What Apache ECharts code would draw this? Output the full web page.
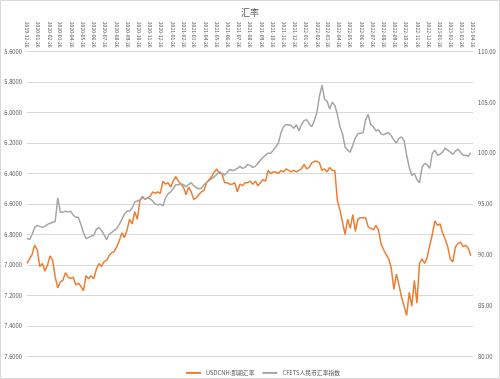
<!DOCTYPE html>
<html>
<head>
<meta charset="utf-8">
<script src="https://cdn.jsdelivr.net/npm/echarts@6/dist/echarts.min.js"></script>
<style>
html,body{margin:0;padding:0;background:#fff;}
#chart{width:500px;height:379px;}
</style>
</head>
<body>
<div id="chart"></div>
<script>
const titleText = '汇率';
const seriesNames = ['USDCNH:即期汇率', 'CFETS人民币汇率指数'];
const startDate = [2019, 12, 26]; // first weekly observation
const tickLabels = [
 '2019-12-26','2020-01-26','2020-02-26','2020-03-26','2020-04-26','2020-05-26','2020-06-26','2020-07-26','2020-08-26','2020-09-26','2020-10-26','2020-11-26','2020-12-26',
 '2021-01-26','2021-02-26','2021-03-26','2021-04-26','2021-05-26','2021-06-26','2021-07-26','2021-08-26','2021-09-26','2021-10-26','2021-11-26','2021-12-26',
 '2022-01-26','2022-02-26','2022-03-26','2022-04-26','2022-05-26','2022-06-26','2022-07-26','2022-08-26','2022-09-26','2022-10-26','2022-11-26','2022-12-26',
 '2023-01-26','2023-02-26','2023-03-26','2023-04-26'
];
// weekly USDCNH spot
const usdcnh = [
 6.99,6.96,6.93,6.87,6.90,7.01,6.99,7.04,7.00,6.94,6.97,7.08,7.15,7.11,7.10,7.05,7.08,7.09,7.08,7.13,
 7.12,7.14,7.17,7.07,7.09,7.07,7.09,7.03,6.99,7.01,6.98,6.97,6.94,6.92,6.91,6.88,6.84,6.79,6.82,6.77,
 6.70,6.73,6.65,6.70,6.58,6.55,6.57,6.56,6.55,6.52,6.53,6.52,6.53,6.45,6.47,6.46,6.49,6.45,6.42,6.45,
 6.47,6.49,6.54,6.49,6.52,6.57,6.56,6.54,6.52,6.51,6.46,6.44,6.42,6.39,6.37,6.40,6.40,6.46,6.46,6.47,
 6.47,6.46,6.52,6.47,6.48,6.46,6.46,6.45,6.47,6.45,6.48,6.46,6.44,6.45,6.38,6.40,6.39,6.39,6.40,6.38,
 6.39,6.37,6.38,6.39,6.38,6.39,6.38,6.37,6.34,6.37,6.36,6.33,6.32,6.32,6.33,6.38,6.37,6.39,6.36,6.38,
 6.38,6.58,6.64,6.72,6.80,6.70,6.76,6.67,6.78,6.70,6.69,6.69,6.69,6.75,6.76,6.77,6.74,6.77,6.86,6.90,
 6.93,6.96,7.02,7.16,7.06,7.13,7.21,7.27,7.33,7.18,7.27,7.10,7.25,6.99,6.96,6.99,6.95,6.87,6.80,6.71,
 6.74,6.73,6.79,6.83,6.88,6.96,6.98,6.88,6.86,6.85,6.88,6.87,6.89,6.94
];
// weekly CFETS RMB index
const cfets = [
 91.6,91.5,92.0,92.7,92.9,92.8,92.7,92.8,93.0,93.1,93.2,93.3,95.6,94.2,94.2,94.3,94.2,94.3,93.9,93.7,
 93.7,93.0,92.2,91.6,91.7,91.85,91.9,92.5,92.7,92.4,92.0,91.5,92.0,92.2,92.4,92.6,93.0,93.5,94.0,94.3,
 94.3,94.6,95.2,95.3,95.4,95.6,95.5,95.6,95.5,95.3,95.0,94.9,95.0,94.8,95.6,96.0,96.2,96.5,96.9,96.9,
 97.0,96.9,96.7,96.9,97.1,96.8,96.6,96.5,96.55,96.9,97.1,97.3,97.5,97.7,97.9,98.2,98.0,97.85,98.1,98.4,
 98.3,98.35,98.5,98.7,98.5,98.6,98.9,98.8,98.6,98.7,99.0,99.3,99.6,99.8,100.0,100.0,100.3,100.6,101.0,102.0,
 102.6,102.8,102.8,102.7,102.45,102.8,102.2,102.8,103.2,103.3,102.9,102.6,103.2,104.0,105.6,106.7,105.3,105.1,104.35,105.0,
 104.7,103.8,102.6,101.9,100.6,100.3,100.1,100.8,101.5,101.9,101.95,102.0,103.3,103.8,102.8,102.6,102.2,102.3,101.9,101.8,
 101.95,102.0,101.7,101.3,101.0,101.46,101.6,101.2,99.8,98.6,97.8,98.0,97.4,97.1,98.6,99.0,98.84,98.5,100.0,100.3,
 99.8,99.9,100.1,100.5,100.3,100.1,99.9,100.2,100.4,100.1,99.8,99.8,99.7,100.05
];

function parseDay(s){ const p=s.split('-').map(Number); return new Date(p[0],p[1]-1,p[2]).getTime(); }
function pad(n){ return (n<10?'0':'')+n; }
function fmtDay(v){ const d=new Date(v); return d.getFullYear()+'-'+pad(d.getMonth()+1)+'-'+pad(d.getDate()); }
function weekDate(i){ return new Date(startDate[0], startDate[1]-1, startDate[2]+7*i).getTime(); }

const font = '"Noto Sans CJK SC", "Noto Sans", sans-serif';
const chart = echarts.init(document.getElementById('chart'), null, {renderer:'canvas'});
chart.setOption({
  animation:false,
  textStyle:{fontFamily:font},
  title:{text:titleText,left:'center',top:3,textStyle:{fontSize:9,fontWeight:'normal',color:'#595959',fontFamily:font}},
  graphic:[{type:'rect',shape:{x:0.5,y:0.5,width:499,height:378},style:{fill:'none',stroke:'#d9d9d9',lineWidth:1},silent:true}],
  legend:{
    data:seriesNames,left:181,top:365,itemWidth:15,itemHeight:2,itemGap:8,icon:'rect',
    textStyle:{fontSize:5.8,color:'#595959',fontFamily:font}
  },
  grid:{left:27,right:27,top:51.5,bottom:22.5,containLabel:false},
  xAxis:{
    type:'value',position:'top',
    min:parseDay(tickLabels[0]),max:parseDay(tickLabels[tickLabels.length-1]),
    axisLine:{show:true,lineStyle:{color:'#d9d9d9'}},
    axisTick:{show:false},
    splitLine:{show:false},
    axisLabel:{
      customValues:tickLabels.map(parseDay),
      formatter:function(v){return fmtDay(v);},
      rotate:90,fontSize:5,color:'#595959',margin:4,hideOverlap:false,fontFamily:font
    }
  },
  yAxis:[
    {type:'value',min:5.6,max:7.6,interval:0.2,inverse:true,
     axisLine:{show:false},axisTick:{show:false},
     splitLine:{show:true,lineStyle:{color:'#d9d9d9',width:1}},
     axisLabel:{formatter:function(v){return v.toFixed(4);},fontSize:5.8,color:'#595959',margin:5,fontFamily:font}},
    {type:'value',min:80,max:110,interval:5,position:'right',
     axisLine:{show:false},axisTick:{show:false},splitLine:{show:false},
     axisLabel:{formatter:function(v){return v.toFixed(2);},fontSize:5.8,color:'#595959',margin:5,fontFamily:font}}
  ],
  series:[
    {name:seriesNames[0],type:'line',yAxisIndex:0,showSymbol:false,symbol:'none',
     lineStyle:{color:'#ED7D31',width:1.5},itemStyle:{color:'#ED7D31'},
     data:usdcnh.map(function(v,i){return [weekDate(i),v];})},
    {name:seriesNames[1],type:'line',yAxisIndex:1,showSymbol:false,symbol:'none',
     lineStyle:{color:'#A5A5A5',width:1.5},itemStyle:{color:'#A5A5A5'},
     data:cfets.map(function(v,i){return [weekDate(i),v];})}
  ]
});
</script>
</body>
</html>
